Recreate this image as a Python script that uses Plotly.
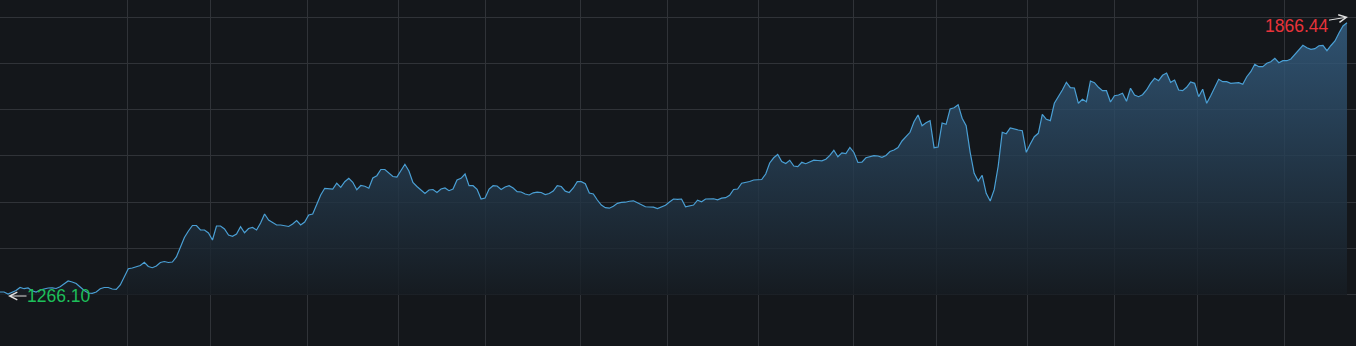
import plotly.graph_objects as go

# ---- data (daily closing values) ----
close = [
    1270.5, 1270.5, 1266.10, 1270.5, 1273.8, 1280.5, 1277.8, 1279.4, 1273.4, 1270.5,
    1275.0, 1277.2, 1279.4, 1279.8, 1278.3, 1282.3, 1289.3, 1294.9, 1292.7, 1289.3,
    1281.6, 1273.8, 1268.3, 1267.7, 1270.5, 1277.8, 1280.5, 1280.5, 1277.2, 1276.5,
    1286.0, 1304.4, 1322.1, 1323.6, 1325.8, 1329.2, 1336.2, 1327.0, 1324.3, 1328.1,
    1335.8, 1338.0, 1335.8, 1336.9, 1348.0, 1370.1, 1391.1, 1405.5, 1417.7, 1417.7,
    1407.7, 1407.7, 1401.1, 1385.6, 1416.6, 1416.6, 1409.9, 1396.7, 1393.8, 1398.9,
    1415.0, 1401.7, 1411.0, 1413.3, 1407.7, 1423.2, 1443.1, 1429.8, 1424.3, 1418.8,
    1418.8, 1417.7, 1415.5, 1421.0, 1428.7, 1418.8, 1425.4, 1440.9, 1443.1, 1464.1,
    1485.2, 1500.0, 1499.5, 1498.4, 1511.1, 1502.2, 1514.6, 1522.1, 1513.3, 1496.9,
    1506.2, 1504.6, 1500.2, 1522.8, 1527.9, 1541.6, 1541.6, 1533.9, 1526.1, 1525.0,
    1540.5, 1553.1, 1538.3, 1512.8, 1504.0, 1496.2, 1488.5, 1496.2, 1497.3, 1490.7,
    1498.4, 1500.7, 1494.7, 1498.4, 1518.4, 1522.1, 1531.6, 1505.7, 1505.7, 1497.8,
    1476.3, 1478.5, 1498.4, 1505.7, 1505.1, 1497.3, 1502.9, 1505.7, 1500.7, 1492.5,
    1491.8, 1487.4, 1485.2, 1490.0, 1491.4, 1490.7, 1486.3, 1488.5, 1494.0, 1505.7,
    1504.0, 1493.6, 1490.7, 1500.7, 1514.6, 1514.6, 1510.2, 1489.6, 1487.4, 1474.1,
    1463.0, 1457.1, 1456.0, 1460.2, 1466.8, 1469.0, 1469.2, 1471.4, 1472.3, 1467.9,
    1462.6, 1459.1, 1458.6, 1458.2, 1455.3, 1458.6, 1462.6, 1469.7, 1476.3, 1475.6,
    1476.3, 1459.1, 1461.5, 1463.0, 1473.7, 1470.3, 1476.3, 1476.8, 1476.8, 1474.5,
    1478.1, 1479.2, 1484.5, 1497.3, 1498.4, 1511.1, 1512.4, 1515.0, 1518.4, 1518.8,
    1519.5, 1531.6, 1556.0, 1567.5, 1574.8, 1559.3, 1554.9, 1562.0, 1549.3, 1547.8,
    1557.5, 1554.4, 1558.2, 1562.2, 1561.5, 1560.8, 1564.4, 1572.8, 1584.1, 1569.9,
    1578.5, 1577.0, 1590.3, 1579.2, 1557.1, 1557.7, 1567.5, 1570.4, 1572.1, 1571.5,
    1568.6, 1572.6, 1581.4, 1584.7, 1590.3, 1604.7, 1614.2, 1623.9, 1647.4, 1662.2,
    1638.5, 1645.2, 1649.6, 1589.8, 1591.4, 1644.5, 1641.6, 1675.5, 1678.3, 1685.0,
    1654.9, 1638.5, 1579.6, 1533.2, 1516.1, 1528.8, 1488.9, 1471.9, 1496.9, 1549.3,
    1623.9, 1620.8, 1633.4, 1630.5, 1629.0, 1627.5, 1579.6, 1598.0, 1614.2, 1621.7,
    1663.7, 1652.7, 1649.6, 1688.1, 1701.4, 1717.5, 1734.5, 1722.6, 1721.9, 1688.1,
    1696.9, 1691.6, 1737.4, 1733.7, 1723.5, 1716.0, 1716.0, 1691.0, 1704.9, 1706.4,
    1710.2, 1692.5, 1721.3, 1706.4, 1702.7, 1707.1, 1717.5, 1732.3, 1743.4, 1738.1,
    1750.0, 1755.1, 1734.5, 1739.6, 1717.5, 1716.0, 1723.5, 1735.2, 1732.3, 1702.7,
    1719.1, 1688.1, 1704.9, 1723.5, 1741.2, 1735.9, 1735.9, 1732.3, 1733.7, 1733.7,
    1730.1, 1746.9, 1758.0, 1774.4, 1769.1, 1769.1, 1776.6, 1780.1, 1787.7, 1777.9,
    1782.3, 1782.3, 1786.1, 1796.5, 1804.5, 1816.4, 1811.1, 1807.6, 1808.9, 1815.5,
    1816.4, 1804.5, 1816.0, 1825.9, 1843.6, 1859.1, 1866.44,
]

# month boundaries (position on the trading-day axis)
month_breaks = [31.9, 52.6, 76.6, 99.3, 121.0, 144.7, 166.6,
                189.3, 213.0, 233.7, 256.4, 278.1, 298.8, 320.5]

# horizontal price grid levels
price_grid = [1879.04, 1776.52, 1674.00, 1571.48, 1468.96, 1366.44, 1263.92]

# ---- layout constants ----
W, H = 1356, 346
BG = "#14171b"
GRID = "#303338"
LINE = "#4a9fd4"
FONT = "Liberation Sans, Arial"

n = len(close)
idx = list(range(n))
px_per_day = 1347 / (n - 1)
x_range = [0, W / px_per_day]
y_range = [1151.03, 1916.66]
base = price_grid[-1]

i_min = min(range(n), key=lambda i: close[i])
i_max = max(range(n), key=lambda i: close[i])

fig = go.Figure()
fig.add_trace(go.Scatter(
    x=idx, y=[base] * n, mode="lines", line=dict(width=0),
    hoverinfo="skip", showlegend=False))
fig.add_trace(go.Scatter(
    x=idx, y=close, mode="lines",
    line=dict(color=LINE, width=1.2),
    fill="tonexty",
    fillgradient=dict(type="vertical",
                      colorscale=[[0, "rgba(22,28,34,0.8)"],
                                  [1, "rgba(54,97,134,0.8)"]]),
    showlegend=False))

fig.add_annotation(
    x=i_max, y=close[i_max], text=f"{close[i_max]:.2f}",
    font=dict(family=FONT, size=17.5, color="#e8333a"),
    showarrow=True, arrowhead=5, arrowsize=1.5, arrowwidth=1, arrowcolor="#e0e0e0",
    ax=-51.5, ay=8.5, xshift=1, yshift=5.7, standoff=0, borderpad=0)
fig.add_annotation(
    x=i_min, y=close[i_min], text=f"{close[i_min]:.2f}",
    font=dict(family=FONT, size=17.5, color="#1dbf5a"),
    showarrow=True, arrowhead=5, arrowsize=1.5, arrowwidth=1, arrowcolor="#e0e0e0",
    ax=51, ay=0, yshift=-2, standoff=0, borderpad=0)

fig.update_layout(
    width=W, height=H, margin=dict(l=0, r=0, t=0, b=0),
    paper_bgcolor=BG, plot_bgcolor=BG, showlegend=False,
    xaxis=dict(range=x_range, tickmode="array", tickvals=month_breaks,
               showticklabels=False, ticks="", showgrid=True, gridcolor=GRID,
               gridwidth=1, zeroline=False, showline=False, fixedrange=True),
    yaxis=dict(range=y_range, tickmode="array", tickvals=price_grid,
               showticklabels=False, ticks="", showgrid=True, gridcolor=GRID,
               gridwidth=1, zeroline=False, showline=False, fixedrange=True),
)

fig.write_html("out.html")
